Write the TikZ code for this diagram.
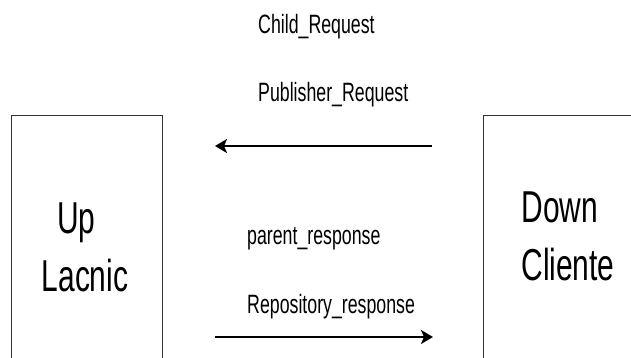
\documentclass[tikz,border=0pt]{standalone}
\usepackage{fontspec}
\newfontfamily\drawfont{Liberation Sans}[FakeStretch=0.67]
\definecolor{boxgray}{RGB}{51, 51, 51}
\usetikzlibrary{arrows.meta, positioning}

\begin{document}
\begin{tikzpicture}[
  x=1pt, y=-1pt,
  box/.style={draw=boxgray, line width=1.4pt, fill=white, inner sep=0pt, anchor=north west},
  big/.style={font=\drawfont\fontsize{44.7}{50}\selectfont, anchor=base, inner sep=0pt, text=black},
  msg/.style={font=\drawfont\fontsize{26.5}{30}\selectfont, anchor=base west, inner sep=0pt, text=black},
  arr/.style={draw=black, line width=2pt, -{Stealth[length=12pt, width=14pt, inset=3pt]}}
]

\useasboundingbox (0,0) rectangle (631,357);
\clip (0,0) rectangle (631,357);

% boxes
\node[box, minimum width=151pt, minimum height=300pt] (upbox) at (11,115) {};
\node[box, minimum width=170pt, minimum height=300pt] (downbox) at (483,115) {};

\node[big] (uplbl) at (76.5,233) {Up};
\node[big] (lacnic) at (85,291) {Lacnic};
\node[big] (downlbl) at (560,222) {Down};
\node[big] (cliente) at (568,280) {Cliente};

% requests
\node[msg] (child) at (258,33) {Child\_Request};
\node[msg] (publisher) at (258,101) {Publisher\_Request};
\coordinate (reqstart) at (432,146);
\coordinate (reqend) at (215,146);
\draw[arr] (reqstart) -- (reqend);

% responses
\node[msg] (parent) at (247,244) {parent\_response};
\node[msg] (repository) at (247,313) {Repository\_response};
\coordinate (respstart) at (215,337);
\coordinate (respend) at (433,337);
\draw[arr] (respstart) -- (respend);

\end{tikzpicture}
\end{document}
